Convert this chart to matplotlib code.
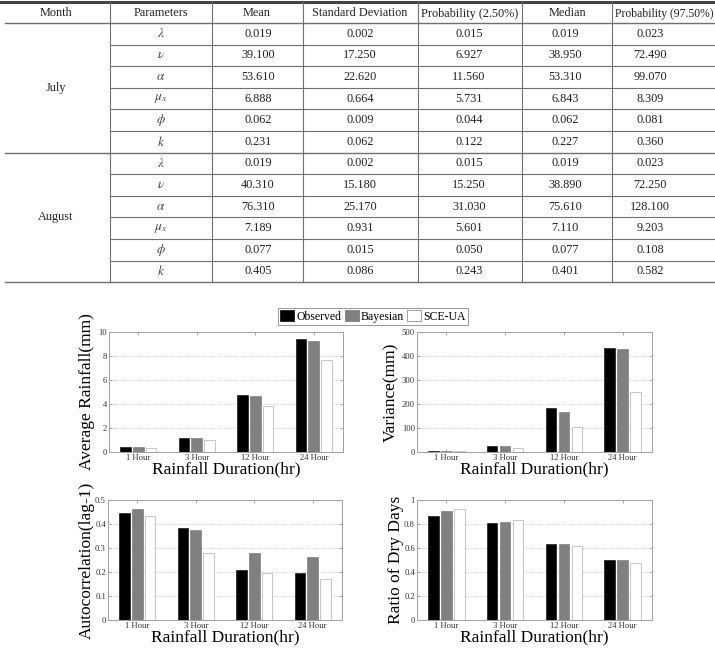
import matplotlib.pyplot as plt
import numpy as np
from matplotlib.patches import Patch
from matplotlib.ticker import FuncFormatter

plt.rcParams['font.family'] = ['Liberation Serif', 'DejaVu Serif']
plt.rcParams['mathtext.fontset'] = 'stix'

W, H = 715, 652

# ---- table data ----
months = ['July', 'August']
params = [r'$\lambda$', r'$\nu$', r'$\alpha$', r'$\mu_x$', r'$\phi$', r'$k$']
headers = ['Month', 'Parameters', 'Mean', 'Standard Deviation',
           'Probability (2.50%)', 'Median', 'Probability (97.50%)']

july_mean = [0.019, 39.100, 53.610, 6.888, 0.062, 0.231]
july_sd = [0.002, 17.250, 22.620, 0.664, 0.009, 0.062]
july_p025 = [0.015, 6.927, 11.560, 5.731, 0.044, 0.122]
july_median = [0.019, 38.950, 53.310, 6.843, 0.062, 0.227]
july_p975 = [0.023, 72.490, 99.070, 8.309, 0.081, 0.360]

aug_mean = [0.019, 40.310, 76.310, 7.189, 0.077, 0.405]
aug_sd = [0.002, 15.180, 25.170, 0.931, 0.015, 0.086]
aug_p025 = [0.015, 15.250, 31.030, 5.601, 0.050, 0.243]
aug_median = [0.019, 38.890, 75.610, 7.110, 0.077, 0.401]
aug_p975 = [0.023, 72.250, 128.100, 9.203, 0.108, 0.582]

# ---- chart data ----
durations = ['1 Hour', '3 Hour', '12 Hour', '24 Hour']
methods = ['Observed', 'Bayesian', 'SCE-UA']

avg_obs = [0.40, 1.20, 4.75, 9.45]
avg_bay = [0.40, 1.20, 4.65, 9.25]
avg_sce = [0.35, 0.97, 3.85, 7.70]

var_obs = [5.5, 25.0, 182.0, 433.0]
var_bay = [4.0, 23.5, 165.0, 428.0]
var_sce = [4.0, 16.7, 104.0, 250.0]

acf_obs = [0.447, 0.384, 0.209, 0.197]
acf_bay = [0.464, 0.375, 0.278, 0.263]
acf_sce = [0.433, 0.281, 0.194, 0.172]

dry_obs = [0.870, 0.809, 0.637, 0.496]
dry_bay = [0.911, 0.820, 0.637, 0.501]
dry_sce = [0.922, 0.834, 0.620, 0.479]

fig = plt.figure(figsize=(W / 100, H / 100), dpi=100)

# ---- table, drawn in pixel coordinates ----
tab = fig.add_axes([0, 0, 1, 1])
tab.set_xlim(0, W)
tab.set_ylim(H, 0)
tab.axis('off')

col_edges = [110, 212, 303, 418, 522, 612]
head_x = [56, 161, 257, 360, 470, 567, 664]
head_fs = [8.8, 8.8, 8.8, 8.8, 8.8, 8.8, 8.4]
val_x = [56, 161, 258, 360, 469, 565, 650]
top, head_bot, row_h = 2, 23, 21.6
txt_kw = dict(ha='center', va='center', fontsize=8.8, color='#222222')
line_c = '#707070'

for j, h in enumerate(headers):
    tab.text(head_x[j], (top + head_bot) / 2 + 1, h, ha='center', va='center',
             fontsize=head_fs[j], color='#222222')

month_cols = [[july_mean, july_sd, july_p025, july_median, july_p975],
              [aug_mean, aug_sd, aug_p025, aug_median, aug_p975]]

for m, month in enumerate(months):
    y0 = head_bot + m * 6 * row_h
    tab.text(val_x[0], y0 + 3 * row_h, month, **txt_kw)
    for i, p in enumerate(params):
        yc = y0 + (i + 0.5) * row_h
        tab.text(val_x[1], yc, p, ha='center', va='center', fontsize=9.5, color='#444444')
        for j, col in enumerate(month_cols[m]):
            tab.text(val_x[j + 2], yc, f'{col[i]:.3f}', **txt_kw)
        if i < 5:
            tab.plot([col_edges[0], W], [y0 + (i + 1) * row_h] * 2, color=line_c, lw=0.8)
    tab.plot([5, W], [y0 + 6 * row_h] * 2, color=line_c, lw=1.0)

tab.plot([0, W], [top, top], color='#444444', lw=2.2)
tab.plot([5, W], [head_bot, head_bot], color=line_c, lw=1.0)
bottom = head_bot + 12 * row_h
for xe in col_edges:
    tab.plot([xe, xe], [top, bottom], color=line_c, lw=0.8)

# ---- bar charts ----
bar_w, off = 0.18, 0.22


def bar_panel(ax, obs, bay, sce, ymax, ystep, ylabel, ylab_x):
    x = np.arange(1, len(durations) + 1)
    ax.bar(x - off, obs, bar_w, color='black', edgecolor='black', lw=0.4, zorder=3)
    ax.bar(x, bay, bar_w, color='#808080', edgecolor='#707070', lw=0.4, zorder=3)
    ax.bar(x + off, sce, bar_w, color='white', edgecolor='#bdbdbd', lw=0.6, zorder=3)
    ax.set_xlim(0.5, 4.5)
    ax.set_ylim(0, ymax)
    ax.set_xticks(x)
    ax.set_xticklabels(durations)
    ax.set_yticks(np.arange(0, ymax + ystep / 2, ystep))
    ax.yaxis.set_major_formatter(FuncFormatter(lambda v, _: f'{v:g}'))
    ax.yaxis.grid(True, ls=':', color='#b5b5b5', lw=0.6)
    ax.set_axisbelow(True)
    ax.tick_params(direction='in', length=2, width=0.5, color='#888888',
                   labelsize=6.2, labelcolor='#333333', pad=1.5,
                   top=True, right=True)
    for s in ax.spines.values():
        s.set_color('#a0a0a0')
        s.set_linewidth(0.7)
    ax.set_xlabel('Rainfall Duration(hr)', fontsize=12.5)
    ax.set_ylabel(ylabel, fontsize=12.5)
    ax.xaxis.set_label_coords(0.5, -0.075)
    ax.yaxis.set_label_coords(ylab_x, 0.5)


ax1 = fig.add_axes([109 / W, 1 - 452 / H, 234 / W, 120 / H])
ax2 = fig.add_axes([417 / W, 1 - 452 / H, 235 / W, 120 / H])
ax3 = fig.add_axes([108 / W, 1 - 620 / H, 234 / W, 120 / H])
ax4 = fig.add_axes([417 / W, 1 - 620 / H, 235 / W, 120 / H])

bar_panel(ax1, avg_obs, avg_bay, avg_sce, 10, 2, 'Average Rainfall(mm)', -0.058)
bar_panel(ax2, var_obs, var_bay, var_sce, 500, 100, 'Variance(mm)', -0.076)
bar_panel(ax3, acf_obs, acf_bay, acf_sce, 0.5, 0.1, 'Autocorrelation(lag-1)', -0.056)
bar_panel(ax4, dry_obs, dry_bay, dry_sce, 1, 0.2, 'Ratio of Dry Days', -0.056)

handles = [Patch(facecolor='black', edgecolor='black', lw=0.5),
           Patch(facecolor='#808080', edgecolor='#707070', lw=0.5),
           Patch(facecolor='white', edgecolor='#909090', lw=0.6)]
leg = fig.legend(handles, methods, loc='center', ncol=3,
                 bbox_to_anchor=(373 / W, 1 - 316.5 / H), fontsize=8.5,
                 handlelength=1.2, handleheight=1.0, handletextpad=0.15,
                 columnspacing=0.3, borderpad=0.2, borderaxespad=0,
                 fancybox=False, framealpha=1)
leg.get_frame().set_edgecolor('#999999')
leg.get_frame().set_linewidth(0.7)

fig.savefig('out.png', dpi=100)
